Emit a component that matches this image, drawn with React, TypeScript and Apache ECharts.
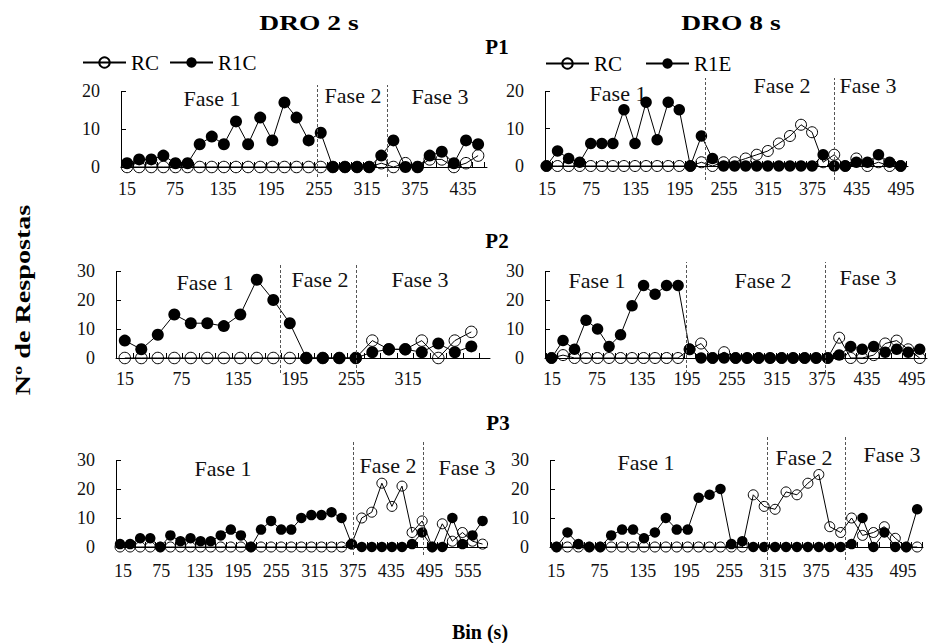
import React, { useEffect, useRef } from 'react';
import * as echarts from 'echarts';

// ---- bins (s) ----
const bins = [15, 30, 45, 60, 75, 90, 105, 120, 135, 150, 165, 180, 195, 210, 225, 240, 255, 270, 285, 300, 315, 330, 345, 360, 375, 390, 405, 420, 435, 450, 465, 480, 495, 510, 525, 540, 555];

// ---- P1 ----
const p1d2RC = [0, 0, 0, 0, 0, 0, 0, 0, 0, 0, 0, 0, 0, 0, 0, 0, 0, 0, 0, 0, 0, 1, 0, 1, 0, 2, 2, 0, 1, 3];
const p1d2R1C = [1, 2, 2, 3, 1, 1, 6, 8, 6, 12, 6, 13, 7, 17, 13, 7, 9, 0, 0, 0, 0, 3, 7, 0, 0, 3, 4, 1, 7, 6];
const p1d8RC = [0, 0, 0, 0, 0, 0, 0, 0, 0, 0, 0, 0, 0, 0, 1, 0, 1, 1, 2, 3, 4, 6, 8, 11, 9, 1, 3, 0, 2, 0, 1, 0, 0];
const p1d8R1E = [0, 4, 2, 1, 6, 6, 6, 15, 6, 17, 7, 17, 15, 0, 8, 2, 0, 0, 0, 0, 0, 0, 0, 0, 0, 3, 0, 0, 1, 1, 3, 1, 0];

// ---- P2 ----
const p2d2RC = [0, 0, 0, 0, 0, 0, 0, 0, 0, 0, 0, 0, 0, 0, 0, 6, 3, 3, 6, 0, 6, 9];
const p2d2R1C = [6, 3, 8, 15, 12, 12, 11, 15, 27, 20, 12, 0, 0, 0, 0, 2, 3, 3, 2, 5, 2, 4];
const p2d8RC = [0, 1, 0, 0, 0, 0, 0, 0, 0, 0, 0, 0, 3, 5, 0, 2, 0, 0, 0, 0, 0, 0, 0, 0, 0, 7, 0, 0, 1, 5, 6, 3, 0];
const p2d8R1E = [0, 6, 3, 13, 10, 4, 8, 18, 25, 22, 25, 25, 3, 0, 0, 0, 0, 0, 0, 0, 0, 0, 0, 0, 0, 1, 4, 3, 4, 2, 3, 2, 3];

// ---- P3 ----
const p3d2RC = [0, 0, 0, 0, 0, 0, 0, 0, 0, 0, 0, 0, 0, 0, 0, 0, 0, 0, 0, 0, 0, 0, 0, 1, 10, 12, 22, 14, 21, 5, 9, 0, 8, 2, 5, 2, 1];
const p3d2R1C = [1, 1, 3, 3, 0, 4, 2, 3, 2, 2, 4, 6, 4, 0, 6, 9, 6, 6, 10, 11, 11, 12, 10, 1, 0, 0, 0, 0, 0, 1, 5, 0, 0, 10, 1, 4, 9];
const p3d8RC = [0, 0, 0, 0, 0, 0, 0, 0, 0, 0, 0, 0, 0, 0, 0, 0, 0, 0, 18, 14, 13, 19, 18, 22, 25, 7, 5, 10, 4, 5, 7, 3, 0, 0];
const p3d8R1E = [0, 5, 1, 0, 0, 4, 6, 6, 3, 5, 10, 6, 6, 17, 18, 20, 1, 2, 0, 0, 0, 0, 0, 0, 0, 0, 0, 1, 10, 0, 5, 0, 0, 13];

// ---- phase boundaries (s) ----
const p1d2Phases = [250.5, 337.5];
const p1d8Phases = [230, 405];
const p2d2Phases = [156, 225.5];
const p2d8Phases = [190.5, 372];
const p3d2Phases = [363, 466.5];
const p3d8Phases = [304, 411];

// ---- tick labels ----
const p1d2Ticks = [15, 75, 135, 195, 255, 315, 375, 435];
const p1d8Ticks = [15, 75, 135, 195, 255, 315, 375, 435, 495];
const p2d2Ticks = [15, 75, 135, 195, 255, 315];
const p2d8Ticks = [15, 75, 135, 195, 255, 315, 375, 435, 495];
const p3d2Ticks = [15, 75, 135, 195, 255, 315, 375, 435, 495, 555];
const p3d8Ticks = [15, 75, 135, 195, 255, 315, 375, 435, 495];
const yTicks20 = [0, 10, 20];
const yTicks30 = [0, 10, 20, 30];

const phaseNames = ['Fase 1', 'Fase 2', 'Fase 3'];
const FONT = '"Liberation Serif", "Times New Roman", "DejaVu Serif", serif';

// layout (pixels): plot box, dashed-line extent, label-row placement
const panels = [
  { rc: p1d2RC, r: p1d2R1C, rName: 'R1C', ticks: p1d2Ticks, yl: yTicks20, phases: p1d2Phases,
    L: { left: 121, right: 487, y0: 167, yTopPx: 91, dashTop: 85, dashBot: 177, xMin: 7.5, xMax: 461, sym: 12, lm: 13, lab: [127, 463] },
    fase: [[212, 98], [353, 95], [440, 96]] },
  { rc: p1d8RC, r: p1d8R1E, rName: 'R1E', ticks: p1d8Ticks, yl: yTicks20, phases: p1d8Phases,
    L: { left: 545, right: 908, y0: 166, yTopPx: 91, dashTop: 78, dashBot: 180, xMin: 13, xMax: 505, sym: 11.5, lm: 14, lab: [547, 901] },
    fase: [[618, 93], [782, 85], [868, 85]] },
  { rc: p2d2RC, r: p2d2R1C, rName: 'R1C', ticks: p2d2Ticks, yl: yTicks30, phases: p2d2Phases,
    L: { left: 116, right: 490, y0: 358, yTopPx: 271, dashTop: 263, dashBot: 373, xMin: 7, xMax: 347, sym: 12, lm: 12, lab: [125, 408] },
    fase: [[205, 282], [320, 279], [420, 279]] },
  { rc: p2d8RC, r: p2d8R1E, rName: 'R1E', ticks: p2d8Ticks, yl: yTicks30, phases: p2d8Phases,
    L: { left: 545, right: 927, y0: 358, yTopPx: 271, dashTop: 262, dashBot: 373, xMin: 6.5, xMax: 504.5, sym: 11.5, lm: 12, lab: [552, 912] },
    fase: [[597, 280], [763, 280], [868, 277]] },
  { rc: p3d2RC, r: p3d2R1C, rName: 'R1C', ticks: p3d2Ticks, yl: yTicks30, phases: p3d2Phases,
    L: { left: 116, right: 487, y0: 547, yTopPx: 460, dashTop: 440, dashBot: 555, xMin: 9, xMax: 561.6, sym: 10.5, lm: 15, lab: [123, 468] },
    fase: [[223, 468], [388, 465], [467, 467]] },
  { rc: p3d8RC, r: p3d8R1E, rName: 'R1E', ticks: p3d8Ticks, yl: yTicks30, phases: p3d8Phases,
    L: { left: 550, right: 923, y0: 547, yTopPx: 460, dashTop: 437, dashBot: 560, xMin: 6, xMax: 518, sym: 10.5, lm: 15, lab: [556, 903] },
    fase: [[646, 462], [804, 457], [892, 454]] },
];

function buildOption() {
  const grid: any[] = [];
  const xAxis: any[] = [];
  const yAxis: any[] = [];
  const series: any[] = [];
  const graphic: any[] = [];

  panels.forEach((p, i) => {
    const L = p.L;
    const width = L.right - L.left;
    const yMax = p.yl[p.yl.length - 1];
    const ppu = (L.y0 - L.yTopPx) / yMax;
    const yHi = yMax + (L.yTopPx - L.dashTop) / ppu;
    const yLo = -(L.dashBot - L.y0) / ppu;
    const xs = bins.slice(0, p.r.length);
    const boundaries = [xs[0] - 7.5, ...xs.map((b) => b + 7.5)];

    // label axis scale: first/last tick label at the given pixel columns
    const t0 = p.ticks[0];
    const t1 = p.ticks[p.ticks.length - 1];
    const s = (L.lab[1] - L.lab[0]) / (t1 - t0);
    const labMin = t0 - (L.lab[0] - L.left) / s;
    const labMax = labMin + width / s;

    grid.push({ left: L.left, top: L.dashTop, width, height: L.dashBot - L.dashTop });
    // data axis (line + ticks)
    xAxis.push({
      type: 'value', gridIndex: i, min: L.xMin, max: L.xMax, position: 'bottom',
      axisLine: { show: true, onZero: true, lineStyle: { color: '#000', width: 1 } },
      axisTick: { show: true, inside: true, length: 5, customValues: boundaries, lineStyle: { color: '#000', width: 1 } },
      axisLabel: { show: false },
      splitLine: { show: false },
    });
    // label axis (text only), lifted to the zero line
    xAxis.push({
      type: 'value', gridIndex: i, min: labMin, max: labMax, position: 'bottom',
      offset: -(L.dashBot - L.y0),
      axisLine: { show: false, onZero: false },
      axisTick: { show: false },
      axisLabel: { customValues: p.ticks, fontSize: 18, fontFamily: FONT, color: '#111', margin: L.lm },
      splitLine: { show: false },
    });
    yAxis.push({
      type: 'value', gridIndex: i, min: yLo, max: yHi,
      axisLine: { show: false, onZero: false },
      axisTick: { show: true, inside: true, length: 5, customValues: p.yl.slice(1), lineStyle: { color: '#000', width: 1 } },
      axisLabel: { customValues: p.yl, fontSize: 18, fontFamily: FONT, color: '#111', margin: 21 },
      splitLine: { show: false },
    });

    const xi = 2 * i;
    series.push({
      type: 'line', name: 'RC', xAxisIndex: xi, yAxisIndex: i,
      data: xs.map((b, j) => [b, p.rc[j]]),
      symbol: 'circle', symbolSize: L.sym - 0.5, showAllSymbol: true,
      lineStyle: { color: '#000', width: 1 },
      itemStyle: { color: 'rgba(255,255,255,0)', borderColor: '#000', borderWidth: 1 },
      z: 3,
    });
    series.push({
      type: 'line', name: p.rName, xAxisIndex: xi, yAxisIndex: i,
      data: xs.map((b, j) => [b, p.r[j]]),
      symbol: 'circle', symbolSize: L.sym, showAllSymbol: true,
      lineStyle: { color: '#000', width: 1 },
      itemStyle: { color: '#000', borderColor: '#000', borderWidth: 0 },
      z: 4,
      markLine: {
        silent: true, symbol: ['none', 'none'], label: { show: false },
        data: [
          ...p.phases.map((v) => ({ xAxis: v, lineStyle: { type: [3, 2], color: '#555', width: 1 } })),
          [
            { coord: [L.xMin, 0], lineStyle: { type: 'solid', color: '#000', width: 1 } },
            { coord: [L.xMin, yMax] },
          ],
        ],
      },
    });

    p.fase.forEach((pos, k) => {
      graphic.push({
        type: 'text', x: pos[0], y: pos[1], silent: true,
        style: { text: phaseNames[k], fontSize: 22, fontFamily: FONT, fill: '#111', align: 'center', verticalAlign: 'middle' },
      });
    });
  });

  const bold = (text: string, x: number, y: number, size: number, sx = 1, rotation = 0) => ({
    type: 'text', x, y, rotation, scaleX: sx, silent: true,
    style: { text, fontSize: size, fontWeight: 'bold', fontFamily: FONT, fill: '#000', align: 'center', verticalAlign: 'middle' },
  });
  graphic.push(bold('DRO 2 s', 309, 22, 22, 1.25));
  graphic.push(bold('DRO 8 s', 731, 22, 22, 1.25));
  graphic.push(bold('P1', 497, 47, 21));
  graphic.push(bold('P2', 497, 241, 21));
  graphic.push(bold('P3', 498, 423, 21));
  graphic.push(bold('Nº de Respostas', 22, 300, 22, 1.28, Math.PI / 2));
  graphic.push(bold('Bin (s)', 480, 632, 20));

  const legendBase = {
    orient: 'horizontal', itemWidth: 43, itemHeight: 13, padding: 0,
    textStyle: { fontSize: 21, fontFamily: FONT, color: '#000' },
    selectedMode: false,
  };

  return {
    animation: false,
    backgroundColor: '#fff',
    grid, xAxis, yAxis, series, graphic,
    legend: [
      { ...legendBase, left: 82, top: 52, itemGap: 10, data: ['RC', 'R1C'] },
      { ...legendBase, left: 545, top: 53, itemGap: 23, data: ['RC', 'R1E'] },
    ],
  };
}

export default function App() {
  const ref = useRef<HTMLDivElement>(null);
  useEffect(() => {
    if (!ref.current) return;
    const chart = echarts.init(ref.current, undefined, { renderer: 'svg' });
    chart.setOption(buildOption() as any);
    return () => chart.dispose();
  }, []);
  return <div ref={ref} style={{ position: 'fixed', left: 0, top: 0, width: 938, height: 643, background: '#fff' }} />;
}
